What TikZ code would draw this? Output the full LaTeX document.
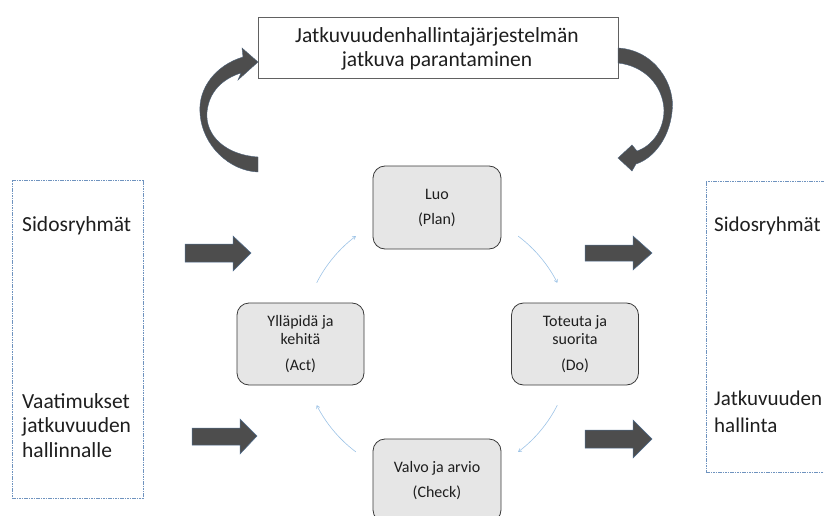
\documentclass[tikz,border=0pt]{standalone}
\usepackage{fontspec}
\setmainfont{Carlito}
\usetikzlibrary{arrows.meta,calc}

\definecolor{txt}{HTML}{1E1E1E}
\definecolor{boxfill}{HTML}{E6E6E6}
\definecolor{boxline}{HTML}{3A3A3A}
\definecolor{frameblue}{HTML}{6F93BF}
\definecolor{arrowgray}{HTML}{4D4D4D}
\definecolor{arrowedge}{HTML}{4F6D8F}
\definecolor{cyclearc}{HTML}{9DC3E6}

\tikzset{
  big/.style={font=\fontsize{21.5}{24.5}\selectfont, text=txt, inner sep=0pt},
  phase/.style={draw=boxline, line width=0.8pt, fill=boxfill, rounded corners=12pt,
    align=center, text=txt, font=\fontsize{16}{17.5}\selectfont, inner sep=0pt},
  frame/.style={draw=frameblue, line width=0.8pt, dash pattern=on 1.6pt off 0.8pt},
  blockarrow/.style={fill=arrowgray, draw=arrowedge, line width=0.5pt, line join=miter},
  bentarrow/.style={fill=arrowgray, draw=arrowedge!70!arrowgray, line width=0.4pt},
  cyclestep/.style={draw=cyclearc, line width=0.6pt, -{To[length=3.5pt,width=4pt]}},
}

\begin{document}
\begin{tikzpicture}[x=1pt,y=1pt]
\useasboundingbox (0,0) rectangle (824,-516);
\clip (0,0) rectangle (824,-516);

% improvement box at the top (base anchor sits on the last line)
\node[draw=boxline!80, line width=0.7pt, fill=white, minimum width=360pt, minimum height=61pt,
      inner sep=0pt] (improve) at (438,-47.5) {};
\node[big, anchor=base, align=center] (improveT) at (437,-67)
  {Jatkuvuudenhallintajärjestelmän\\jatkuva parantaminen};

% curved arrow on the left, rising towards the box
\path[bentarrow] (258,-157) .. controls (226,-155) and (205,-136) .. (207,-112)
  .. controls (209,-92) and (222,-79) .. (241,-73) -- (238,-80) -- (258,-62)
  -- (242,-48) -- (243,-57) .. controls (216,-65) and (198,-88) .. (200,-113)
  .. controls (202,-146) and (230,-171) .. (258,-172) -- cycle;

% curved arrow on the right, coming down from the box
\path[bentarrow] (618,-48) .. controls (655,-50) and (676,-85) .. (672,-112)
  .. controls (669,-140) and (652,-159) .. (636,-164) -- (632,-171) -- (618,-158)
  -- (632,-145) -- (637,-151) .. controls (652,-146) and (664,-130) .. (664,-110)
  .. controls (663,-86) and (645,-66) .. (618,-63) -- cycle;

% input frame
\node[frame, minimum width=131pt, minimum height=318pt, inner sep=0pt] (inputs) at (77.5,-339) {};
\node[big, anchor=base west] (inSid) at (22,-231) {Sidosryhmät};
\node[big, anchor=base west, align=left] (inReq) at (22,-457)
  {Vaatimukset\\jatkuvuuden\\hallinnalle};

% output frame (runs past the right edge)
\node[frame, minimum width=130pt, minimum height=291pt, inner sep=0pt] (outputs) at (771,-326.5) {};
\node[big, anchor=base west, font=\fontsize{21}{27}\selectfont] (outSid) at (714,-231) {Sidosryhmät};
\node[big, anchor=base west, align=left, font=\fontsize{21}{27}\selectfont] (outBcm) at (714,-432)
  {Jatkuvuuden\\hallinta};

% block arrows
\path[blockarrow] (185,-244) -- (233,-244) -- (233,-236) -- (251,-253) -- (233,-271)
  -- (233,-262) -- (185,-262) -- cycle;
\path[blockarrow] (192,-428) -- (240,-428) -- (240,-419) -- (257,-436) -- (240,-454)
  -- (240,-445) -- (192,-445) -- cycle;
\path[blockarrow] (585,-245) -- (633,-245) -- (633,-236) -- (652,-253) -- (633,-270)
  -- (633,-261) -- (585,-261) -- cycle;
\path[blockarrow] (585,-430) -- (633,-430) -- (633,-420) -- (652,-439) -- (633,-458)
  -- (633,-448) -- (585,-448) -- cycle;

% PDCA phases
\node[phase, minimum width=128pt, minimum height=83pt] (plan) at (437,-207.5)
  {Luo\\[7.5pt](Plan)};
\node[phase, minimum width=127pt, minimum height=82pt] (act) at (300.5,-344)
  {Ylläpidä ja\\kehitä\\[8.5pt](Act)};
\node[phase, minimum width=127pt, minimum height=82pt] (do) at (575,-344)
  {Toteuta ja\\suorita\\[8.5pt](Do)};
\node[phase, minimum width=128pt, minimum height=83pt] (check) at (437,-480.5)
  {Valvo ja arvio\\[7.5pt](Check)};

% cycle arcs around a common centre
\coordinate (hub) at (437,-344);
\coordinate (a1) at ($(hub)+(153:135)$);
\coordinate (a2) at ($(hub)+(53:135)$);
\coordinate (a3) at ($(hub)+(-27:135)$);
\coordinate (a4) at ($(hub)+(-127:135)$);
\draw[cyclestep] (a1) arc[start angle=153, end angle=127, radius=135];
\draw[cyclestep] (a2) arc[start angle=53, end angle=27, radius=135];
\draw[cyclestep] (a3) arc[start angle=-27, end angle=-53, radius=135];
\draw[cyclestep] (a4) arc[start angle=-127, end angle=-153, radius=135];
\end{tikzpicture}
\end{document}
